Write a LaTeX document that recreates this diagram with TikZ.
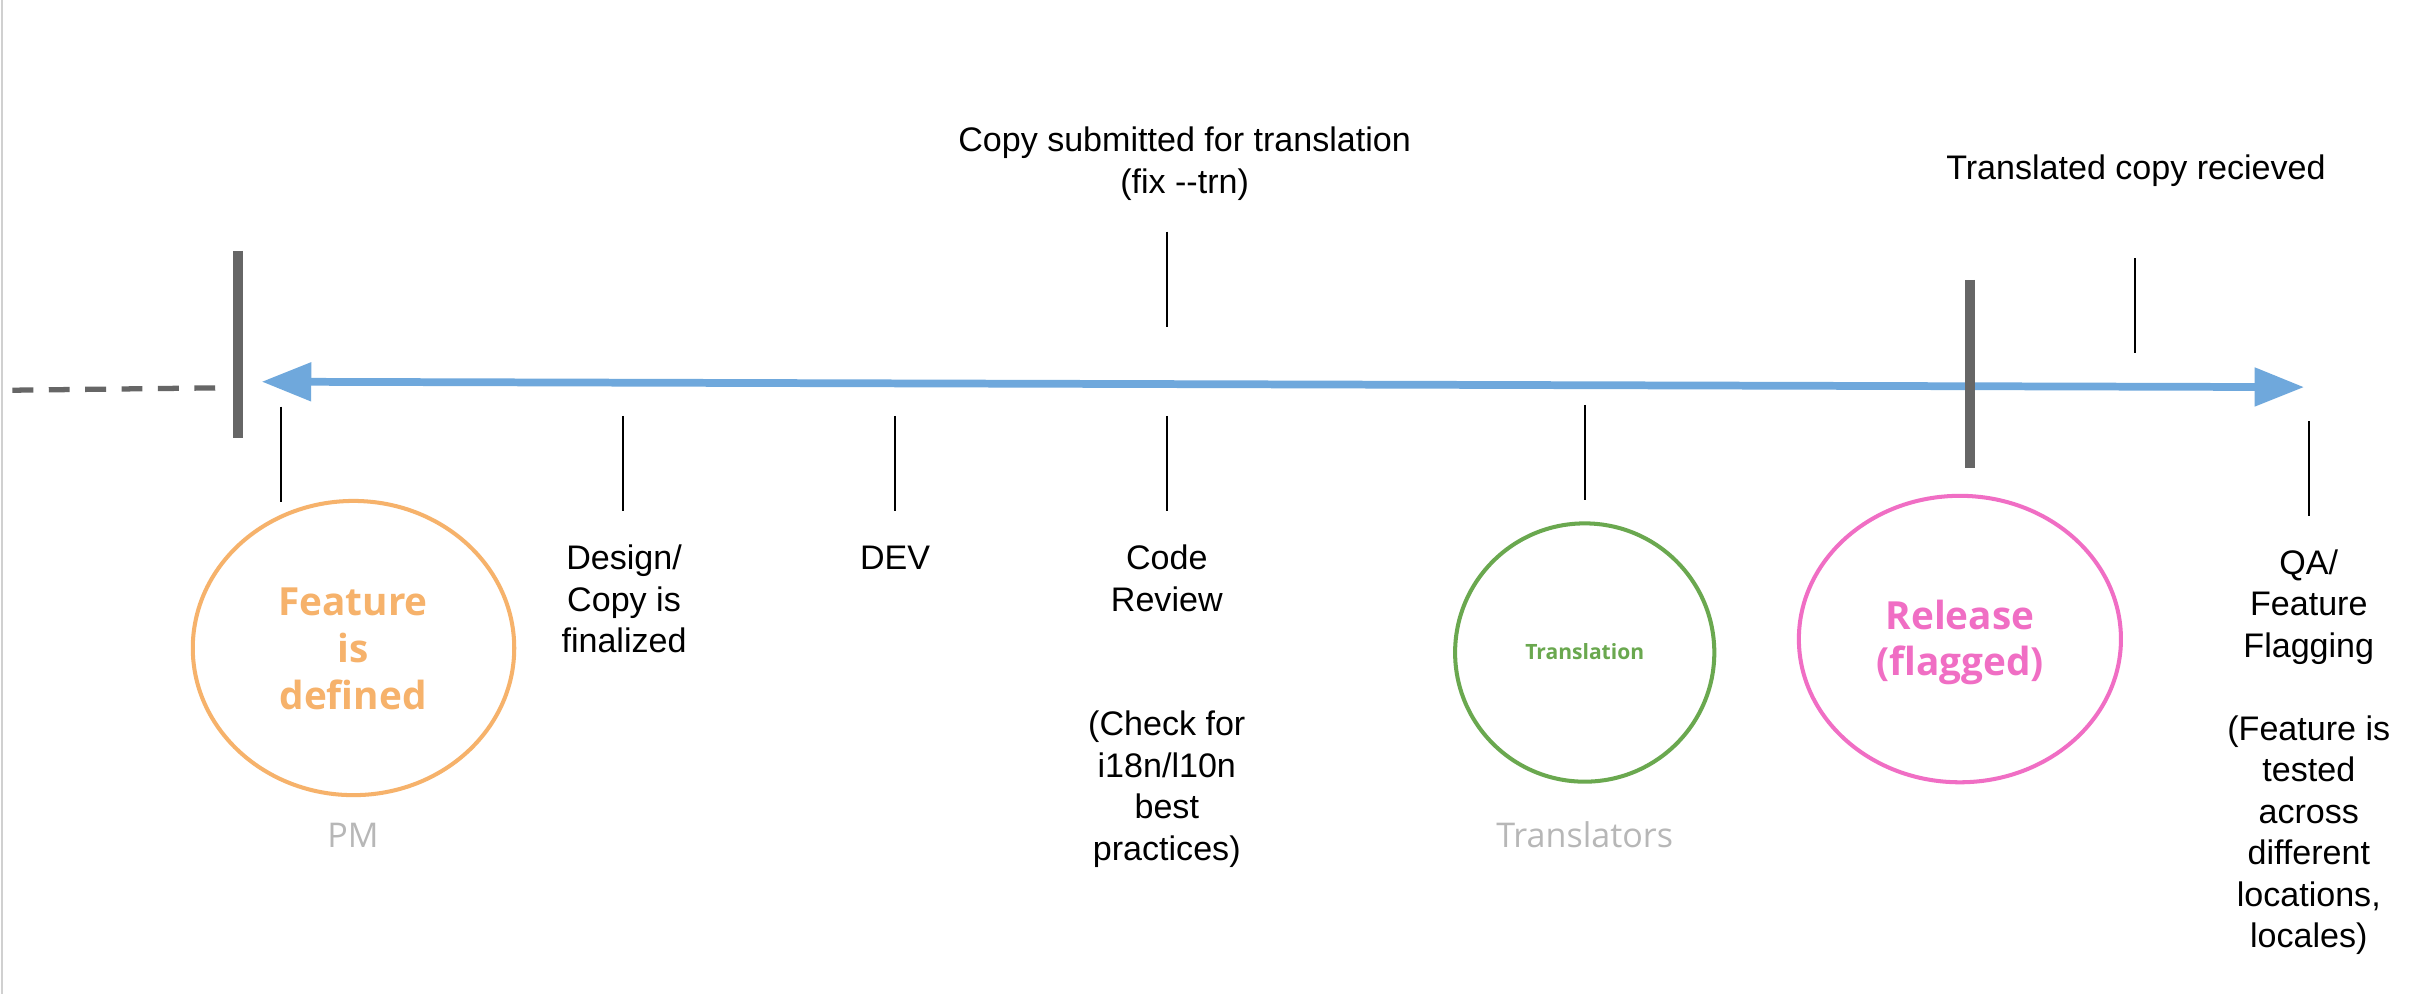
\documentclass[tikz,border=0pt]{standalone}
\usepackage{fontspec}
\newfontfamily\arial{Liberation Sans}
\newfontfamily\osans{Open Sans}
\usetikzlibrary{arrows.meta,shapes.geometric}
\definecolor{orng}{HTML}{F6B26B}
\definecolor{grn}{HTML}{6AA84F}
\definecolor{pnk}{HTML}{F06EC4}
\definecolor{blu}{HTML}{6FA8DC}
\definecolor{dgray}{HTML}{666666}
\definecolor{lgray}{HTML}{B7B7B7}
\definecolor{edge}{HTML}{D0D0D0}
\begin{document}
\begin{tikzpicture}[x=1pt,y=-1pt,
  tickline/.style={line width=1.2pt, black},
  barline/.style={line width=6.5pt, dgray},
  lbl/.style={font={\arial\fontsize{22}{26.8}\selectfont}, align=center, anchor=base, inner sep=0pt},
  bigc/.style={font={\osans\bfseries\fontsize{25}{30.2}\selectfont}, align=center, anchor=base, inner sep=0pt},
  role/.style={font={\osans\fontsize{22}{26}\selectfont}, text=lgray, anchor=base, inner sep=0pt},
  ring/.style={ellipse, draw, line width=2.6pt, inner sep=0pt}
]
\useasboundingbox (0,0) rectangle (1568,641.9);
\fill[white] (0,0) rectangle (1568,641.9);
% left page edge
\coordinate (e1) at (1.3,0);
\coordinate (e2) at (1.3,641.9);
\draw[edge, line width=1.4pt] (e1) -- (e2);

% dashed lead-in
\coordinate (d1) at (8,252);
\coordinate (d2) at (139,250.5);
\draw[dgray, line width=3.4pt, dash pattern=on 13.5pt off 10pt] (d1) -- (d2);

% gray bars
\coordinate (b1t) at (153.9,162);
\coordinate (b1b) at (153.9,283);
\draw[barline] (b1t) -- (b1b);

% main arrow
\coordinate (al) at (169,246.5);
\coordinate (ar) at (1488,250);
\draw[blu, line width=5pt, {Triangle[length=32pt,width=24pt]}-{Triangle[length=32pt,width=24pt]}] (al) -- (ar);

\coordinate (b2t) at (1272.2,180.8);
\coordinate (b2b) at (1272.2,302);
\draw[barline] (b2t) -- (b2b);

% ticks below
\coordinate (t1a) at (181.5,262.6); \coordinate (t1b) at (181.5,324);
\coordinate (t2a) at (402.6,268.6); \coordinate (t2b) at (402.6,330);
\coordinate (t3a) at (578,268.6);   \coordinate (t3b) at (578,330);
\coordinate (t4a) at (753.5,268.6); \coordinate (t4b) at (753.5,330);
\coordinate (t5a) at (1023.4,261.5); \coordinate (t5b) at (1023.4,323);
\coordinate (t6a) at (1491,272);    \coordinate (t6b) at (1491,333);
% ticks above
\coordinate (t7a) at (753.6,149.6); \coordinate (t7b) at (753.6,211);
\coordinate (t8a) at (1379,166.8);  \coordinate (t8b) at (1379,228);
\foreach \t in {1,...,8} { \draw[tickline] (t\t a) -- (t\t b); }

% circles
\node[ring, draw=orng, minimum width=207.6pt, minimum height=190pt] (feat) at (228.3,418.5) {};
\node[ring, draw=grn, minimum width=167.4pt, minimum height=166.8pt] (trans) at (1023.4,421.4) {};
\node[ring, draw=pnk, minimum width=208pt, minimum height=185pt] (rel) at (1265.7,412.7) {};

% multi-line nodes: base anchor = baseline of last line
\node[bigc, text=orng] (featlbl) at (228,458) {Feature\\is\\defined};
\node[bigc, text=pnk] (rellbl) at (1265.7,436.5) {Release\\(flagged)};
\node[font={\osans\bfseries\fontsize{13.6}{16}\selectfont}, text=grn, anchor=base, inner sep=0pt] (translbl) at (1023.4,426.2) {Translation};

\node[role] (pm) at (228,547) {PM};
\node[role] (translators) at (1023.4,547.4) {Translators};

% labels
\node[lbl] (submit) at (765,124.8) {Copy submitted for translation\\(fix \mbox{-}\mbox{-}trn)};
\node[lbl] (received) at (1379.4,115.6) {Translated copy recieved};
\node[lbl] (design) at (403,421.6) {Design/\\Copy is\\finalized};
\node[lbl] (dev) at (578,368) {DEV};
\node[lbl] (review) at (753.5,555.4) {Code\\Review\\[53.4pt](Check for\\i18n/l10n\\best\\practices)};
\node[lbl] (qa) at (1491,612) {QA/\\Feature\\Flagging\\[26.9pt](Feature is\\tested\\across\\different\\locations,\\locales)};
\end{tikzpicture}
\end{document}
